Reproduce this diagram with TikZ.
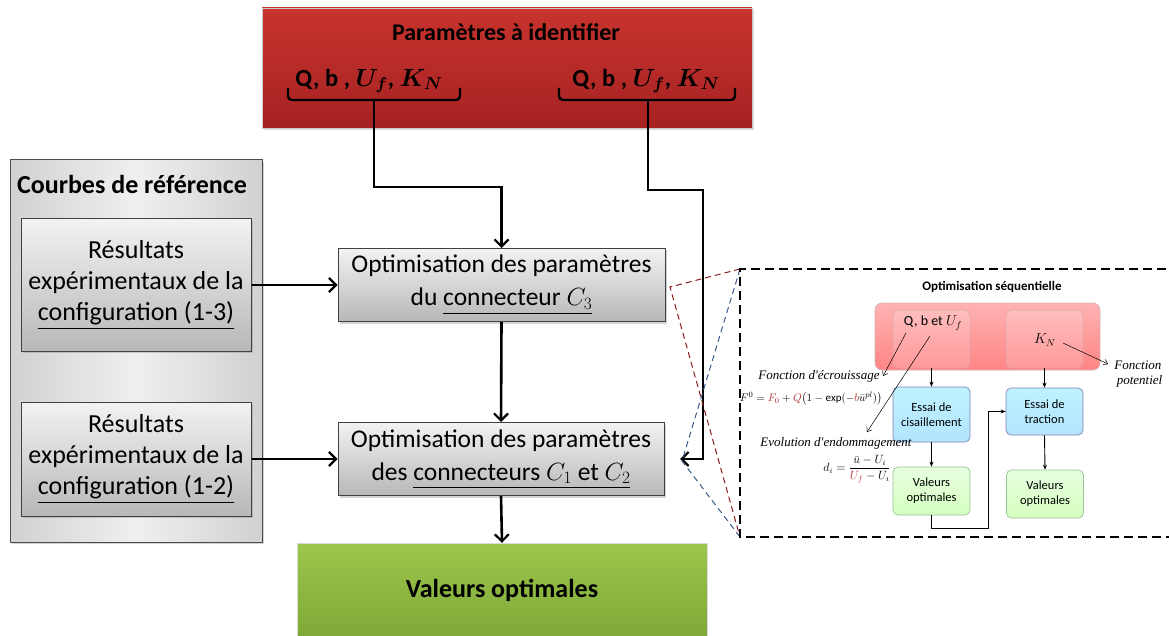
\documentclass[tikz,border=0pt]{standalone}
\usepackage{amsmath}
\usepackage{fontspec}
\setmainfont{Carlito}
\newfontfamily\annfont{Liberation Serif}
\usetikzlibrary{arrows.meta,shadows,calc}
\definecolor{redtop}{HTML}{C8332E}
\definecolor{redbot}{HTML}{A52222}
\definecolor{grntop}{HTML}{9CC64C}
\definecolor{grnbot}{HTML}{7DA636}
\definecolor{fred}{HTML}{B03030}
\definecolor{zred}{HTML}{8B1A1A}
\definecolor{zblue}{HTML}{3A5A8C}
\tikzset{
  grbox/.style={draw=black!75, line width=1pt, top color=black!5, bottom color=black!28,
    drop shadow={shadow xshift=2pt,shadow yshift=-2pt,opacity=0.35}, align=center},
  arr/.style={line width=2.6pt, -{Straight Barb[length=7pt,width=14pt,line width=2.2pt]}},
  arrs/.style={line width=0.9pt, -{Stealth[length=5pt,width=4pt]}},
  thinarr/.style={line width=0.5pt, -{Straight Barb[length=4pt,width=6pt]}},
  pinkbox/.style={draw=red!45!black!30, rounded corners=7pt, top color=red!30, bottom color=red!48, line width=0.6pt},
  pinkin/.style={draw=red!50!black!35, rounded corners=6pt, top color=red!26, bottom color=red!40, line width=0.5pt, minimum width=77pt},
  bluebox/.style={draw=blue!40!black!50, rounded corners=5pt, top color=blue!20!cyan!25, bottom color=blue!35!cyan!30, line width=0.7pt, minimum width=77pt, align=center, font=\fontsize{12.5}{15}\selectfont},
  lgbox/.style={draw=green!40!black!40, rounded corners=5pt, top color=yellow!20!green!12, bottom color=yellow!35!green!25, line width=0.7pt, minimum width=77pt, minimum height=48pt, align=center, font=\fontsize{12.5}{15}\selectfont},
  ann/.style={font=\annfont\itshape\fontsize{13}{15}\selectfont},
}
\begin{document}
\begin{tikzpicture}[x=1pt,y=-1pt]
\useasboundingbox (0,0) rectangle (1169,636);
% top red box
\node[draw=black!20, top color=redtop, bottom color=redbot, minimum width=490pt, minimum height=120pt,
  drop shadow={shadow xshift=2pt,shadow yshift=-2pt,opacity=0.3}] (params) at (507,68) {};
\node[font=\bfseries\fontsize{24}{26}\selectfont] (ptitle) at (506,32) {Paramètres à identifier};
\node[font=\bfseries\fontsize{24.5}{26}\selectfont] (qleft) at (369,81) {Q, b , $\boldsymbol{U_f}$, $\boldsymbol{K_N}$};
\node[font=\bfseries\fontsize{24.5}{26}\selectfont] (qright) at (646,81) {Q, b , $\boldsymbol{U_f}$, $\boldsymbol{K_N}$};
% braces
\coordinate (bL) at (374,100);
\coordinate (bR) at (648,100);
\draw[line width=2.4pt, rounded corners=4pt] (288,88) -- (288,100) -- (460,100) -- (460,88);
\draw[line width=2.4pt, rounded corners=4pt] (559,88) -- (559,100) -- (735,100) -- (735,88);
% left gray group
\node[draw=black!70, line width=1pt, left color=black!18, right color=black!18, middle color=black!6,
  minimum width=252pt, minimum height=382pt,
  drop shadow={shadow xshift=2pt,shadow yshift=-2pt,opacity=0.35}] (courbes) at (136,351) {};
\node[font=\bfseries\fontsize{26}{28}\selectfont] (ctitle) at (132,184) {Courbes de référence};
\node[grbox, minimum width=230pt, minimum height=132pt, font=\fontsize{26}{31}\selectfont] (res13) at (136,285)
  {Résultats\\expérimentaux de la\\\underline{configuration (1-3)}};
\node[grbox, minimum width=230pt, minimum height=114pt, font=\fontsize{26}{31}\selectfont] (res12) at (136,459)
  {Résultats\\expérimentaux de la\\\underline{configuration (1-2)}};
% main boxes
\node[grbox, minimum width=327pt, minimum height=73pt, font=\fontsize{25.5}{33}\selectfont] (opt3) at (501.5,285)
  {Optimisation des paramètres\\du \underline{connecteur $C_3$}};
\node[grbox, minimum width=326pt, minimum height=73pt, font=\fontsize{25.5}{33}\selectfont] (opt12) at (501,459)
  {Optimisation des paramètres\\des \underline{connecteurs $C_1$ et $C_2$}};
% green result
\node[draw=black!15, top color=grntop, bottom color=grnbot, minimum width=410pt, minimum height=100pt] (valopt) at (502,593) {};
\node[font=\bfseries\fontsize{26}{28}\selectfont] (vtext) at (502,590) {Valeurs optimales};
% connectors
\coordinate (rin) at (680,459);
\draw[arr] (bL) -- (374,128) -- (374,187) -| (opt3.north);
\draw[arr] (bR) -- (648,128) -- (648,190) -- (703,190) -- (703,459) -- (rin);
\draw[arr] (res13.east) -- (opt3.west);
\draw[arr] (res12.east) -- (opt12.west);
\draw[arr] (opt3.south) -- (opt12.north);
\draw[arr] (opt12.south) -- (valopt.north);
% zoom callout lines
\coordinate (ztl) at (740,269);
\coordinate (zbl) at (740,537);
\coordinate (zr) at (670,287);
\coordinate (zb) at (682,461);
\draw[zred, dashed, line width=1pt, dash pattern=on 6pt off 4pt] (ztl) -- (zr) -- (zbl);
\draw[zblue, dashed, line width=1pt, dash pattern=on 6pt off 4pt] (ztl) -- (zb) -- (zbl);
% inset frame
\draw[line width=1.4pt, dash pattern=on 9pt off 5pt] (1180,269) -- (ztl) -- (zbl) -- (1180,537);
\node[font=\bfseries\fontsize{13}{15}\selectfont] (seqt) at (992,287) {Optimisation séquentielle};
\node[pinkbox, minimum width=225pt, minimum height=67pt] (pink) at (987.5,336.5) {};
\node[pinkin, minimum height=58pt] (pq) at (931.5,339) {};
\node[pinkin, minimum height=58pt] (pk) at (1044.5,339) {};
\node[font=\fontsize{14}{16}\selectfont] (qbu) at (933,323) {Q, b et $U_f$};
\node[font=\fontsize{14}{16}\selectfont] (kn) at (1045,340) {$K_N$};
\node[bluebox, minimum height=55pt] (ecis) at (931.5,414.5) {Essai de\\cisaillement};
\node[bluebox, minimum height=47pt] (etra) at (1044.5,411.5) {Essai de\\traction};
\node[lgbox] (vl) at (931.5,491) {Valeurs\\optimales};
\node[lgbox] (vr) at (1045,494) {Valeurs\\optimales};
\draw[arrs] (pq.south) -- (ecis.north);
\draw[arrs] (pk.south) -- (etra.north);
\draw[arrs] (ecis.south) -- (vl.north);
\draw[arrs] (etra.south) -- (vr.north);
\coordinate (elb) at (988,411.5);
\draw[arrs] (vl.south) -- ++(0,13) -| (elb) -- (etra.west);
% annotations
\node[ann] (fecr) at (819,376) {Fonction d'écrouissage};
\node[font=\fontsize{11}{13}\selectfont] (feq) at (811,399)
  {$F^0 = {\color{fred}F_0} + {\color{fred}Q}\bigl(1-\exp(-{\color{fred}b}\bar{u}^{pl})\bigr)$};
\node[ann] (evo) at (836,443) {Evolution d'endommagement};
\node[font=\fontsize{12}{14}\selectfont] (deq) at (857,469)
  {$d_i = \dfrac{\bar{u}-U_i}{{\color{fred}U_f}-U_i}$};
\node[ann, align=center, anchor=west] (fpot) at (1110,374) {Fonction\\\ potentiel};
\coordinate (a1) at (906,333);
\coordinate (a2) at (930,336);
\coordinate (a3) at (1063,343);
\draw[thinarr] (a1) -- (fecr.east);
\draw[thinarr] (a2) -- (867,432);
\draw[thinarr] (a3) -- (1108,364);
\end{tikzpicture}
\end{document}
